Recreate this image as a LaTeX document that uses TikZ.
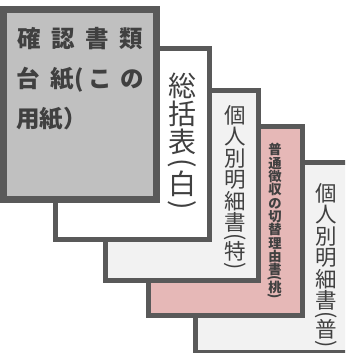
\documentclass[tikz,border=0pt]{standalone}
\usepackage{fontspec}
\usepackage{graphicx}
\newfontfamily\jp{Noto Sans CJK JP}
\definecolor{bd}{HTML}{595959}
\definecolor{txt}{HTML}{404040}
\definecolor{grayfill}{HTML}{C0C0C0}
\definecolor{lightfill}{HTML}{F2F2F2}
\definecolor{pinkfill}{HTML}{E6B8B7}
\newcommand\vch[1]{\hbox to 1em{\hss\vrule width0pt height.88em depth.12em\smash{#1}\hss}}
\newcommand\vpar[2]{\vbox to #1{\vss\hbox to 1em{\hss\rotatebox{-90}{#2}\hss}\vss}}
\begin{document}
\begin{tikzpicture}[x=1pt,y=-1pt,
  sheet/.style={draw=bd, line width=5pt},
  vlabel/.style={anchor=north, inner sep=0pt, text=txt, font=\jp},
  front/.style={anchor=base, inner sep=0pt, text=txt, font=\jp\bfseries\fontsize{23.5}{23.5}\selectfont}]
\useasboundingbox (0,0) rectangle (345,353);
\clip (0,0) rectangle (345,353);
% sheets from back to front
\draw[sheet, fill=lightfill] (195.5,162.5) rectangle (349.5,352.5);
\draw[sheet, fill=pinkfill] (148.5,126.5) rectangle (302.5,315.5);
\draw[sheet, fill=lightfill] (105.5,90.5) rectangle (258.5,280.5);
\draw[sheet, fill=white] (55.5,48.5) rectangle (209.5,239.5);
\draw[sheet, line width=7pt, fill=grayfill] (3.5,9.5) rectangle (156.5,199.5);
% front sheet text
\node[front] (a1) at (29.5,48) {確};
\node[front] (a2) at (63.5,48) {認};
\node[front] (a3) at (97.5,48) {書};
\node[front] (a4) at (131,48) {類};
\node[front] (b1) at (28.5,87) {台};
\node[front] (b2) at (62,87) {紙};
\node[front] (b3) at (79.5,87) {(};
\node[front] (b4) at (100,87) {こ};
\node[front] (b5) at (132,87) {の};
\node[front, anchor=base west] (c1) at (16,127) {用紙）};
% vertical labels
\node[vlabel] (t2) at (182,72) {\fontsize{28}{28}\selectfont\vbox{\offinterlineskip
  \vch{総}\vch{括}\vch{表}\vpar{.5em}{(}\vch{白}\vpar{.5em}{)}}};
\node[vlabel] (t3) at (235,104) {\fontsize{21.5}{21.5}\selectfont\vbox{\offinterlineskip
  \vch{個}\vch{人}\vch{別}\vch{明}\vch{細}\vch{書}\vpar{.35em}{(}\vch{特}\vpar{.35em}{)}}};
\node[vlabel] (t4) at (275,143) {\bfseries\fontsize{13.3}{13.3}\selectfont\vbox{\offinterlineskip
  \vch{普}\vch{通}\vch{徴}\vch{収}\vch{の}\vch{切}\vch{替}\vch{理}\vch{由}\vch{書}\vpar{.35em}{(}\vch{桃}\vpar{.35em}{)}}};
\node[vlabel] (t5) at (326,182) {\fontsize{21.5}{21.5}\selectfont\vbox{\offinterlineskip
  \vch{個}\vch{人}\vch{別}\vch{明}\vch{細}\vch{書}\vpar{.35em}{(}\vch{普}\vpar{.35em}{)}}};
\end{tikzpicture}
\end{document}
